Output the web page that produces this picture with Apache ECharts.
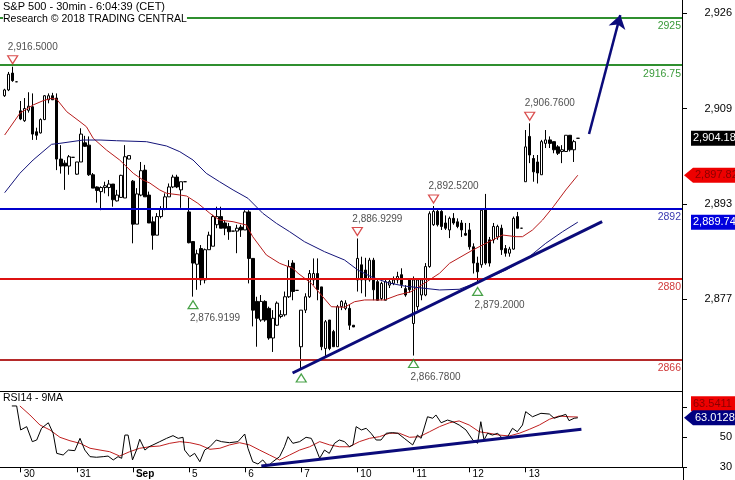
<!DOCTYPE html>
<html><head><meta charset="utf-8">
<script src="https://cdn.jsdelivr.net/npm/echarts@6/dist/echarts.min.js"></script>
<style>html,body{margin:0;padding:0;background:#fff}#c{width:735px;height:480px}</style>
</head><body><div id="c"></div>
<script>
// ---- data ----
const dayLabels = ['30','31','Sep','5','6','7','10','11','12','13'];
const dayStart  = [4,18,32,46,60,74,88,102,116,130];

const opens = [2911.5,2912.5,2915.4,2913.9,2908.9,2907.2,2909.0,2909.6,2905.3,2905.1,
2907.4,2910.8,2911.5,2911.1,2900.6,2899.9,2899.4,2900.9,2898.0,2900.1,
2903.4,2903.0,2897.9,2895.8,2895.0,2895.7,2895.7,2896.3,2893.4,2894.0,
2893.9,2900.6,2896.8,2889.4,2894.4,2898.7,2894.4,2889.8,2887.5,2890.7,
2892.0,2894.1,2895.8,2897.5,2895.3,2896.7,2891.5,2886.4,2882.5,2885.2,
2879.8,2885.0,2885.6,2889.3,2890.7,2889.6,2889.0,2888.2,2888.2,2888.9,
2888.4,2891.5,2883.5,2876.1,2872.9,2876.1,2874.9,2869.8,2872.0,2873.5,
2873.8,2876.9,2882.7,2878.0,2868.3,2874.6,2876.9,2879.8,2880.9,2878.6,
2868.0,2872.9,2870.9,2868.3,2875.2,2874.9,2874.9,2872.0,2879.8,2882.4,
2881.5,2879.8,2883.2,2879.5,2876.6,2876.3,2878.9,2879.2,2879.8,2880.7,
2878.3,2879.8,2872.3,2875.2,2877.2,2877.2,2882.1,2889.3,2891.6,2891.6,
2889.6,2888.4,2890.4,2889.8,2889.6,2887.8,2888.4,2885.5,2882.7,2882.4,
2892.1,2886.7,2886.7,2887.2,2888.7,2885.2,2884.4,2885.1,2890.7,2888.7,
2896.7,2904.5,2900.7,2900.1,2897.9,2903.3,2903.9,2903.6,2902.7,2901.9,
2901.9,2904.7,2902.2,2904.18];
const closes = [2912.5,2915.2,2914.1,2913.9,2907.5,2909.3,2909.7,2904.9,2904.7,2907.4,
2911.5,2911.5,2910.8,2900.6,2899.4,2899.4,2901.0,2900.9,2900.1,2904.9,
2902.8,2897.9,2895.6,2895.2,2895.7,2896.0,2896.3,2893.6,2894.4,2897.8,
2901.0,2901.2,2889.4,2894.6,2898.6,2894.1,2889.6,2887.5,2890.7,2892.0,
2894.1,2895.8,2897.5,2895.8,2896.7,2896.7,2886.2,2882.7,2884.3,2879.8,
2885.0,2887.5,2890.7,2890.7,2888.7,2888.7,2888.1,2888.2,2888.7,2888.4,
2891.5,2883.5,2874.6,2873.2,2876.1,2872.9,2869.8,2873.2,2875.8,2873.8,
2876.9,2882.1,2877.8,2878.0,2874.6,2876.9,2880.9,2880.9,2878.1,2868.3,
2872.6,2868.0,2868.3,2875.2,2876.1,2875.8,2872.0,2871.7,2883.5,2879.8,
2879.8,2883.2,2878.1,2876.3,2879.2,2879.5,2879.5,2879.8,2880.4,2879.0,
2877.2,2878.1,2879.8,2879.8,2879.8,2882.1,2891.2,2891.6,2889.3,2889.0,
2888.7,2890.4,2889.6,2889.0,2888.4,2887.5,2885.5,2882.7,2881.2,2891.8,
2882.7,2882.7,2889.0,2889.0,2885.0,2884.4,2885.1,2890.4,2888.7,2888.7,
2902.7,2901.3,2898.4,2898.2,2903.6,2903.9,2903.3,2902.2,2901.6,2902.2,
2904.7,2902.2,2903.6,2904.18];
const lows = [2911.3,2912.3,2913.9,2913.9,2907.3,2907.0,2908.6,2903.9,2903.9,2905.0,
2907.3,2910.2,2910.8,2898.7,2898.1,2895.3,2897.9,2900.9,2897.9,2900.1,
2902.7,2897.7,2895.6,2893.1,2891.8,2894.7,2894.2,2892.4,2893.3,2893.9,
2893.9,2900.6,2886.1,2889.4,2894.2,2894.1,2889.6,2885.0,2887.5,2890.4,
2891.8,2894.1,2895.6,2895.6,2892.2,2896.7,2886.1,2876.92,2878.1,2878.9,
2879.2,2885.0,2885.6,2888.7,2888.7,2887.5,2886.7,2888.2,2884.4,2887.2,
2888.4,2879.2,2871.8,2868.3,2872.6,2872.6,2869.5,2867.4,2871.9,2873.2,
2873.5,2876.7,2876.3,2878.0,2864.3,2874.1,2876.7,2878.9,2876.3,2867.7,
2866.6,2867.7,2868.3,2868.3,2874.6,2874.6,2871.2,2871.7,2877.8,2877.5,
2876.9,2879.5,2876.3,2876.3,2876.3,2876.3,2878.4,2878.9,2879.2,2878.4,
2876.9,2877.6,2866.78,2874.6,2876.3,2877.0,2881.9,2889.1,2889.0,2888.4,
2888.4,2887.0,2889.3,2888.7,2887.2,2887.4,2885.0,2880.9,2879.2,2881.9,
2882.4,2882.1,2886.1,2886.7,2884.1,2883.8,2883.8,2885.0,2888.7,2888.7,
2896.7,2899.9,2896.7,2896.4,2897.9,2902.5,2902.5,2901.6,2901.3,2899.9,
2901.9,2901.9,2900.1,2904.18];
const highs = [2912.7,2915.6,2916.5,2913.9,2910.6,2911.1,2912.1,2911.9,2906.0,2907.6,
2911.6,2911.9,2912.0,2911.9,2903.0,2900.4,2901.3,2900.9,2900.1,2905.9,
2904.6,2904.5,2898.2,2895.9,2895.9,2896.7,2897.0,2896.3,2895.3,2897.9,
2903.0,2901.2,2897.0,2895.6,2900.1,2899.6,2895.0,2890.7,2891.3,2892.5,
2894.7,2896.4,2897.9,2897.9,2896.7,2896.7,2893.9,2886.4,2885.0,2885.8,
2885.2,2888.1,2891.0,2892.4,2892.4,2890.1,2889.6,2888.2,2889.3,2889.3,
2891.8,2891.8,2883.5,2876.9,2877.2,2876.3,2875.2,2874.6,2876.1,2874.6,
2877.8,2883.2,2883.2,2878.0,2874.6,2877.5,2881.5,2883.5,2883.5,2878.6,
2872.9,2872.9,2871.2,2875.5,2876.3,2876.3,2875.5,2872.0,2886.93,2883.8,
2883.6,2883.6,2883.6,2879.8,2879.5,2879.8,2879.8,2880.4,2881.2,2881.8,
2878.9,2880.1,2880.4,2880.1,2880.1,2882.7,2891.6,2892.52,2892.0,2891.8,
2890.9,2890.7,2891.3,2890.4,2890.1,2889.6,2889.6,2886.1,2883.8,2892.1,
2894.6,2887.2,2889.6,2889.3,2889.3,2885.8,2885.5,2890.7,2891.5,2888.7,
2905.6,2906.76,2901.3,2901.3,2903.9,2905.6,2904.5,2903.6,2903.0,2903.0,
2904.7,2904.7,2903.9,2904.18];

const maRedIdx = [0,3.8,7.1,9.6,11.7,13,15.5,18.8,20.4,22.1,25.4,28.7,32.1,34.5,36.2,38.7,40.4,43.7,45.4,48.2,51.2,53.6,57,60.3,61.9,65.3,68.6,71.9,73.2,76.5,79,81.5,84.8,87.3,89.8,94.8,98.1,101.4,104.7,108.5,111,116.8,120.9,124.2,127.6,129.2,131.7,134.2,136.9,140,143];
const maRedVal = [2904.74,2908.48,2909.91,2910.65,2911.06,2910.89,2908.75,2907.03,2906.17,2904.17,2902.16,2900.44,2898.15,2897.0,2896.48,2895.28,2894.71,2894.42,2894.24,2892.99,2891.27,2890.11,2889.82,2889.25,2887.24,2884.09,2882.66,2881.8,2880.94,2879.22,2877.2,2875.19,2875.09,2876.05,2876.35,2876.35,2877.2,2877.77,2879.22,2880.94,2882.66,2884.95,2886.38,2887.53,2887.24,2887.24,2888.39,2890.11,2892.4,2895.28,2897.82];
const maBlueIdx = [0,3.8,7.1,11.7,13.8,19.6,23.8,27.9,35.4,40.4,43.7,47,50.3,53.6,57,60.7,64.4,67.8,71.1,74.8,79.8,84.8,88.1,91.4,95.6,99.7,104.7,108.5,113.4,118.4,125.1,130.9,135,139.2,143];
const maBlueVal = [2894.81,2898.15,2900.44,2903.14,2903.31,2903.88,2903.88,2903.76,2903.59,2902.85,2901.87,2900.44,2898.15,2896.71,2895.28,2893.85,2891.27,2889.54,2888.1,2886.38,2884.66,2883.23,2881.51,2880.35,2879.32,2878.75,2878.36,2878.07,2878.19,2879.5,2881.51,2883.8,2886.1,2888.1,2889.74];

const rsiIdx = [1.8,3,4,5.5,6.9,8,9.2,10.9,12.1,13,14.6,15.9,17.5,18.8,20,21.3,22.9,24.6,25.8,27.1,28.3,29.2,30,30.8,31.9,32.9,33.7,35,36,37,38.7,40.4,42,43.3,44.5,44.9,46.2,47.4,48.7,49.9,51.2,52.8,54.1,56.1,58.2,59.9,60.7,61.9,63.2,64.4,65.7,66.9,68.6,69.8,70.7,71.9,73.6,75.2,76.5,77.3,78.6,79.8,81,82.3,83.5,84.8,86,86.9,87.7,89,90.2,91.4,92.7,93.9,95.2,96.8,98.1,99.7,101.8,103,103.9,105.5,106.8,107.6,108.9,110.5,111.8,113.4,115.1,116.8,118,118.8,119.6,120.5,121.7,123,124.2,125.5,126.7,127.9,129.2,130,131.7,133.8,135.9,137.1,138.8,140,140.8,142.1,143];
const rsiVal = [70.9,70.9,54.9,57.1,47.1,48.2,56.0,59.7,52.7,39.3,38.2,41.5,41.1,49.3,41.5,37.1,36.7,37.1,37.5,34.9,37.1,36.0,51.5,51.5,34.9,41.5,48.7,41.5,43.7,44.9,47.1,49.3,51.1,49.3,50.0,41.5,37.1,39.3,33.7,41.5,43.7,48.2,47.1,46.4,47.1,52.2,42.7,33.7,32.2,34.9,30.9,33.7,37.1,43.7,50.4,46.0,47.1,50.0,49.3,44.9,36.0,41.5,39.3,46.0,48.2,47.1,43.7,44.9,57.1,54.9,56.0,52.7,48.2,48.2,52.7,53.1,52.7,49.3,44.9,51.5,49.3,63.7,62.7,64.9,59.7,61.5,60.4,58.2,54.9,48.2,46.0,60.4,48.2,52.7,51.5,52.7,49.3,50.4,56.0,53.7,58.2,67.1,63.7,66.0,65.5,62.7,64.2,65.3,61.1,62.7,63.0128];
const rsiMaIdx = [3.8,6.3,8.8,11.3,13.8,16.3,18.8,21.3,23.8,26.2,28.7,31.2,33.7,36.2,38.7,41.2,43.7,46.2,48.7,51.2,53.7,56.1,58.6,61.1,63.6,66.1,68.6,71.1,73.6,76.1,78.6,81.1,83.5,86,88.5,91,93.5,96,98.5,101,103.5,106,108.5,111,113.4,115.9,118.4,120.9,123.4,125.9,128.4,130.9,133.4,135.9,138.3,140.8,143];
const rsiMaVal = [70.9,64.9,58.2,54.9,50.0,47.7,46.0,42.7,41.5,40.4,37.5,40.4,42.7,43.7,44.2,46.0,47.1,46.4,44.9,42.0,42.7,44.9,46.4,44.9,41.5,38.2,34.9,38.2,41.5,43.7,47.1,44.9,43.7,43.7,47.1,49.3,50.4,52.7,52.7,50.0,50.4,53.7,57.1,59.7,60.9,58.2,53.7,52.7,51.5,50.9,52.7,55.3,58.2,62.0,64.2,63.7,63.5411];

const levelValues = [2925, 2916.75, 2892, 2880, 2866];
const levelTexts  = ['2925', '2916.75', '2892', '2880', '2866'];
const priceTicks = [2876.5, 2892.9, 2909.3, 2925.7];
const rsiTicks = [30, 50, 70];
const highMarks = [[2, 2916.5], [88, 2886.9299], [107, 2892.52], [131, 2906.76]];
const lowMarks  = [[47, 2876.9199], [74, 2864.3], [102, 2866.78], [118, 2879.2]];
const trendMain = [[71.84, 2863.78], [149.07, 2889.82]];
const arrowPts  = [[145.8, 2904.92], [153.6, 2925.38]];
const trendRsi  = [[64.04, 30.87], [143.9, 55.33]];
const lastPrice = 2904.18, lastMaRed = 2897.82, lastMaBlue = 2889.74;
const lastRsiMa = 63.5411, lastRsi = 63.0128;

// ---- helpers ----
const FONT = '"Liberation Sans", Arial, sans-serif';
function fmt(v, d) {
  const s = v.toFixed(d).split('.');
  s[0] = s[0].replace(/\B(?=(\d{3})+(?!\d))/g, ',');
  return s.join('.');
}
const zip = (a, b) => a.map((x, i) => [x, b[i]]);
const candles = opens.map((o, i) => [i, o, closes[i], lows[i], highs[i]]);
const xMin = -1.1584, xMax = 168.995;

const levelColors = ['#2f8f2f', '#2f8f2f', '#0000cc', '#dd1111', '#b52a2a'];
const levelLabelColors = ['#3a9a3a', '#3a9a3a', '#3a3ab0', '#d03a3a', '#d03a3a'];

const chart = echarts.init(document.getElementById('c'), null, {renderer: 'canvas'});
const option = {
  animation: false,
  backgroundColor: '#fff',
  textStyle: {fontFamily: FONT},
  grid: [
    {left: 0, right: 52, top: 0, height: 391},
    {left: 0, right: 52, top: 391, height: 76.3}
  ],
  xAxis: [
    {type: 'value', gridIndex: 0, min: xMin, max: xMax, axisLine: {show: true, onZero: false, lineStyle: {color: '#000', width: 1}},
     axisTick: {show: false}, axisLabel: {show: false}, splitLine: {show: false}},
    {type: 'value', gridIndex: 1, min: xMin, max: xMax, axisLine: {show: true, onZero: false, lineStyle: {color: '#000', width: 1}},
     axisTick: {show: true, customValues: dayStart, length: 5, lineStyle: {color: '#000'}},
     axisLabel: {show: true, customValues: dayStart, align: 'left', padding: [0, 0, 0, 3], margin: 2,
       fontSize: 10, color: '#000', fontFamily: FONT,
       formatter: v => { const k = dayStart.indexOf(Math.round(v)); const t = dayLabels[k] || ''; return t === 'Sep' ? '{b|Sep}' : t; },
       rich: {b: {fontWeight: 'bold', fontSize: 10, fontFamily: FONT, color: '#000'}}},
     splitLine: {show: false}}
  ],
  yAxis: [
    {type: 'value', gridIndex: 0, position: 'right', min: 2860.68, max: 2927.98,
     axisLine: {show: true, onZero: false, lineStyle: {color: '#000'}},
     axisTick: {show: true, customValues: priceTicks, length: 5, lineStyle: {color: '#000'}},
     axisLabel: {customValues: priceTicks, align: 'right', margin: 50, fontSize: 11, color: '#000', fontFamily: FONT,
       formatter: v => fmt(Math.round(v), 0)},
     splitLine: {show: false}},
    {type: 'value', gridIndex: 1, position: 'right', min: 30, max: 80.87,
     axisLine: {show: true, onZero: false, lineStyle: {color: '#000'}},
     axisTick: {show: true, customValues: rsiTicks, length: 5, lineStyle: {color: '#000'}},
     axisLabel: {customValues: rsiTicks, align: 'right', margin: 50, fontSize: 11, color: '#000', fontFamily: FONT,
       formatter: v => String(Math.round(v))},
     splitLine: {show: false}}
  ],
  series: [
    {type: 'candlestick', xAxisIndex: 0, yAxisIndex: 0, data: candles,
     encode: {x: 0, y: [1, 2, 3, 4]}, barWidth: 3,
     itemStyle: {color: '#fff', color0: '#000', borderColor: '#000', borderColor0: '#000', borderWidth: 1},
     markLine: {silent: true, symbol: 'none', animation: false,
       data: levelValues.map((v, k) => ({yAxis: v,
         lineStyle: {color: levelColors[k], width: 2, type: 'solid'},
         label: {show: true, position: 'insideEndBottom', formatter: levelTexts[k], color: levelLabelColors[k],
                 fontSize: 10.5, fontFamily: FONT, distance: [1, 3]}})).concat([
         [{coord: trendMain[0], lineStyle: {color: '#0b0b7a', width: 3, type: 'solid'}, label: {show: false}}, {coord: trendMain[1]}]
       ])}
    },
    {type: 'line', xAxisIndex: 0, yAxisIndex: 0, data: zip(maRedIdx, maRedVal), showSymbol: false,
     lineStyle: {color: '#b81c1c', width: 1}, z: 3},
    {type: 'line', xAxisIndex: 0, yAxisIndex: 0, data: zip(maBlueIdx, maBlueVal), showSymbol: false,
     lineStyle: {color: '#14147a', width: 1}, z: 3},
    {type: 'line', xAxisIndex: 0, yAxisIndex: 0, data: [], showSymbol: false,
     markLine: {silent: true, symbol: ['none', 'arrow'], symbolSize: 13,
       data: [[{coord: arrowPts[0], lineStyle: {color: '#0b0b7a', width: 2.5, type: 'solid'}, label: {show: false}}, {coord: arrowPts[1]}]]}},
    {type: 'scatter', xAxisIndex: 0, yAxisIndex: 0, data: highMarks, z: 6,
     symbol: 'path://M0,0L10,0L5,8Z', symbolSize: [10, 8], symbolOffset: [0, -7],
     itemStyle: {color: '#fff', borderColor: '#d02020', borderWidth: 1.2},
     label: {show: true, position: 'top', align: 'left', offset: [-5, 0], distance: 3,
       formatter: p => fmt(p.value[1], 4), color: '#222', fontSize: 10, fontFamily: FONT}},
    {type: 'scatter', xAxisIndex: 0, yAxisIndex: 0, z: 6,
     data: lowMarks.map((m, k) => ({value: m, label: {show: k !== 1}})),
     symbol: 'triangle', symbolSize: [10, 8], symbolOffset: [0, 8],
     itemStyle: {color: '#fff', borderColor: '#1a8a1a', borderWidth: 1.2},
     label: {show: true, position: 'bottom', align: 'left', offset: [-3, 0], distance: 4,
       formatter: p => fmt(p.value[1], 4), color: '#222', fontSize: 10, fontFamily: FONT}},
    {type: 'line', xAxisIndex: 1, yAxisIndex: 1, data: zip(rsiMaIdx, rsiMaVal), showSymbol: false,
     lineStyle: {color: '#c02020', width: 1}},
    {type: 'line', xAxisIndex: 1, yAxisIndex: 1, data: zip(rsiIdx, rsiVal), showSymbol: false,
     lineStyle: {color: '#000', width: 1},
     markLine: {silent: true, symbol: 'none',
       data: [[{coord: trendRsi[0], lineStyle: {color: '#0b0b7a', width: 3, type: 'solid'}, label: {show: false}}, {coord: trendRsi[1]}]]}}
  ]
};
chart.setOption(option);

function box(y, text, fill, textFill, arrow) {
  const h = 15, x0 = arrow ? 693 : 691;
  const pts = arrow ? [[684, y], [693, y - h / 2], [740, y - h / 2], [740, y + h / 2], [693, y + h / 2]]
                    : [[x0, y - h / 2], [740, y - h / 2], [740, y + h / 2], [x0, y + h / 2]];
  return {type: 'group', z: 100, children: [
    {type: 'polygon', shape: {points: pts}, style: {fill: fill}, z: 100},
    {type: 'text', x: x0 + 2, y: y, z: 101, style: {text: text, fill: textFill, font: '11px ' + FONT, verticalAlign: 'middle'}}
  ]};
}
const py = v => chart.convertToPixel({yAxisIndex: 0}, v);
const ry = v => chart.convertToPixel({yAxisIndex: 1}, v);
const yRsi = ry(lastRsi);
chart.setOption({graphic: [
  {type: 'text', left: 3, top: 1, z: 100, style: {text: 'S&P 500 - 30min - 6:04:39 (CET)', font: '11px ' + FONT, fill: '#000'}},
  {type: 'text', left: 3, top: 14, z: 100, style: {text: 'Research \u00a9 2018 TRADING CENTRAL', font: '10.5px ' + FONT, fill: '#000', backgroundColor: '#fff'}},
  {type: 'text', left: 3, top: 393, z: 100, style: {text: 'RSI14 - 9MA', font: '10.5px ' + FONT, fill: '#000'}},
  {type: 'line', z: 100, shape: {x1: 683.5, y1: 467, x2: 683.5, y2: 480}, style: {stroke: '#000', lineWidth: 1}},
  box(py(lastPrice), fmt(lastPrice, 2), '#000', '#fff', false),
  box(py(lastMaRed), fmt(lastMaRed, 2), '#ee0000', '#8a0000', true),
  box(py(lastMaBlue), fmt(lastMaBlue, 2), '#0000dd', '#fff', false),
  box(Math.min(ry(lastRsiMa), yRsi - 14), fmt(lastRsiMa, 4), '#ee0000', '#8a0000', false),
  box(yRsi, fmt(lastRsi, 4), '#000080', '#fff', true)
]});
</script></body></html>
